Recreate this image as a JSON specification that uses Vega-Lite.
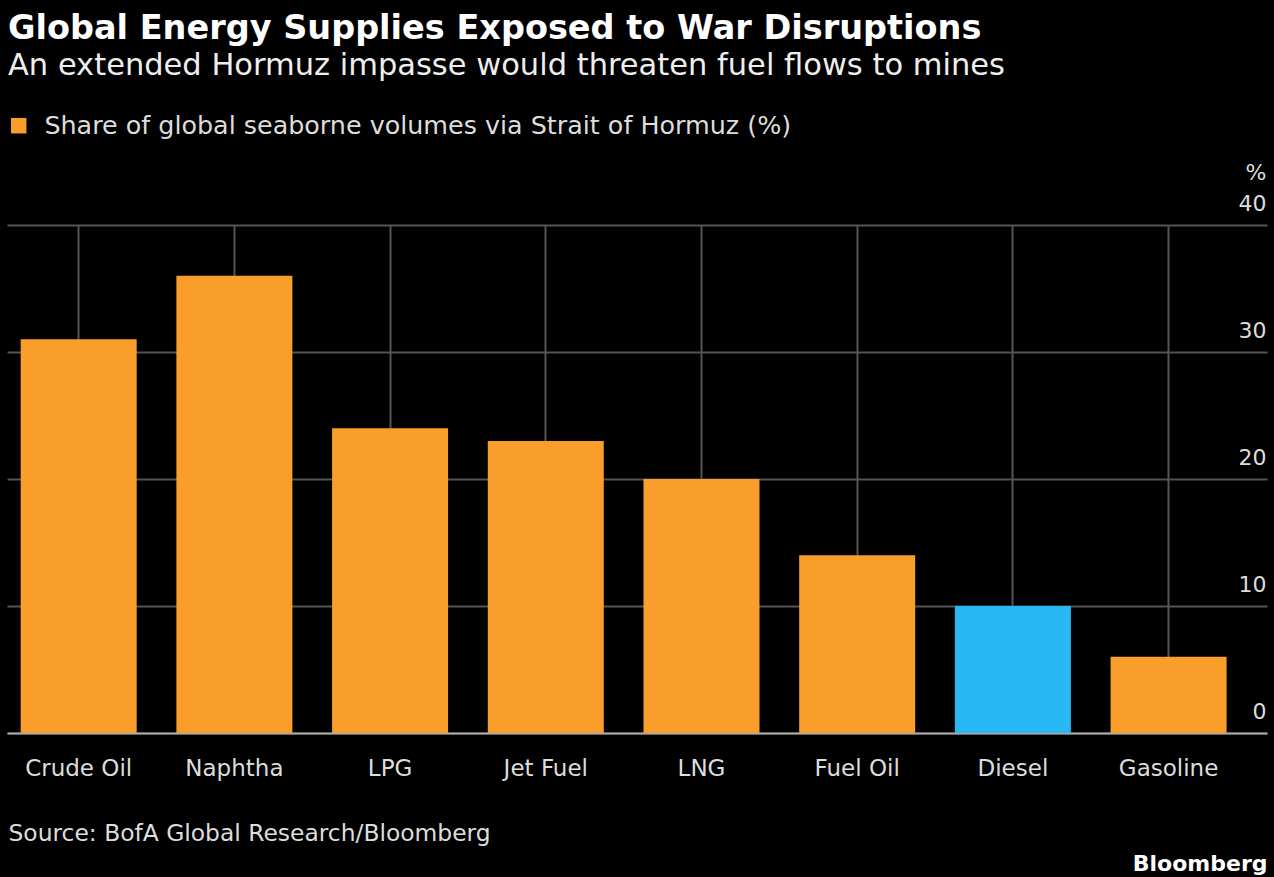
{
  "$schema": "https://vega.github.io/schema/vega-lite/v6.json",
  "autosize": {"type": "none"},
  "padding": {"left": 7, "top": 225, "right": 7, "bottom": 144},
  "width": 1260,
  "height": 508,
  "background": "#000000",
  "title": {
    "text": "Global Energy Supplies Exposed to War Disruptions",
    "subtitle": "An extended Hormuz impasse would threaten fuel flows to mines",
    "anchor": "start",
    "frame": "group",
    "orient": "top",
    "font": "DejaVu Sans",
    "fontSize": 33.5,
    "fontWeight": "bold",
    "color": "#ffffff",
    "subtitleFont": "DejaVu Sans",
    "subtitleFontSize": 30.5,
    "subtitleColor": "#eeeeee",
    "subtitlePadding": 4,
    "offset": 31,
    "dx": 1
  },
  "data": {
    "values": [
      {"category": "Crude Oil", "value": 31, "series": "Share of global seaborne volumes via Strait of Hormuz (%)"},
      {"category": "Naphtha", "value": 36, "series": "Share of global seaborne volumes via Strait of Hormuz (%)"},
      {"category": "LPG", "value": 24, "series": "Share of global seaborne volumes via Strait of Hormuz (%)"},
      {"category": "Jet Fuel", "value": 23, "series": "Share of global seaborne volumes via Strait of Hormuz (%)"},
      {"category": "LNG", "value": 20, "series": "Share of global seaborne volumes via Strait of Hormuz (%)"},
      {"category": "Fuel Oil", "value": 14, "series": "Share of global seaborne volumes via Strait of Hormuz (%)"},
      {"category": "Diesel", "value": 10, "series": "Share of global seaborne volumes via Strait of Hormuz (%)"},
      {"category": "Gasoline", "value": 6, "series": "Share of global seaborne volumes via Strait of Hormuz (%)"}
    ]
  },
  "mark": {"type": "bar"},
  "encoding": {
    "x": {
      "field": "category",
      "type": "nominal",
      "sort": null,
      "scale": {"paddingInner": 0.255, "paddingOuter": 0.17375, "align": 0.253},
      "axis": {
        "title": "Source: BofA Global Research/Bloomberg",
        "titleAnchor": "start",
        "titleAlign": "left",
        "titleBaseline": "alphabetic",
        "titleX": 1,
        "titleY": 107,
        "titleFont": "DejaVu Sans",
        "titleFontSize": 23.4,
        "titleFontWeight": "normal",
        "titleColor": "#dddddd",
        "labelAngle": 0,
        "labelFont": "DejaVu Sans",
        "labelFontSize": 23,
        "labelColor": "#dddddd",
        "labelPadding": 24,
        "ticks": false,
        "domain": true,
        "domainColor": "#aaaaaa",
        "domainWidth": 2,
        "grid": true,
        "gridColor": "#555555",
        "gridWidth": 2,
        "bandPosition": 0.5
      }
    },
    "y": {
      "field": "value",
      "type": "quantitative",
      "scale": {"domain": [0, 40], "nice": false},
      "axis": {
        "orient": "right",
        "values": [0, 10, 20, 30, 40],
        "labelExpr": "datum.value === 40 ? ['%', '40'] : datum.label",
        "labelAlign": "right",
        "labelBaseline": "bottom",
        "labelPadding": -1,
        "labelOffset": {"condition": {"test": "datum.value === 40", "value": -41}, "value": -10},
        "labelLineHeight": 31,
        "labelFont": "DejaVu Sans",
        "labelFontSize": 22,
        "labelColor": "#dddddd",
        "ticks": false,
        "domain": false,
        "grid": true,
        "gridColor": "#555555",
        "gridWidth": 2,
        "title": "Bloomberg",
        "titleAngle": 0,
        "titleAlign": "right",
        "titleBaseline": "alphabetic",
        "titleX": 0,
        "titleY": 645,
        "titleFont": "DejaVu Sans",
        "titleFontSize": 22,
        "titleFontWeight": "bold",
        "titleColor": "#ffffff"
      }
    },
    "color": {
      "field": "series",
      "type": "nominal",
      "scale": {"domain": ["Share of global seaborne volumes via Strait of Hormuz (%)"], "range": ["#FA9E2B"]},
      "condition": {"test": "datum.category === 'Diesel'", "value": "#29B8F6"},
      "legend": {
        "orient": "none",
        "legendX": -1,
        "legendY": -112,
        "title": null,
        "padding": 0,
        "symbolType": "square",
        "symbolSize": 240,
        "symbolStrokeWidth": 0,
        "labelFont": "DejaVu Sans",
        "labelFontSize": 25.4,
        "labelColor": "#dddddd",
        "labelLimit": 1000,
        "labelOffset": 13
      }
    }
  },
  "config": {
    "view": {"stroke": null}
  }
}
